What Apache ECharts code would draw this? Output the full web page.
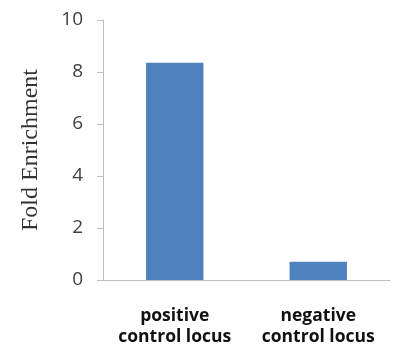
<!DOCTYPE html>
<html><head><meta charset="utf-8">
<script src="https://cdn.jsdelivr.net/npm/echarts@6/dist/echarts.min.js"></script>
<style>html,body{margin:0;padding:0;background:#fff}#c{width:396px;height:348px}</style>
</head><body><div id="c"></div>
<script>
var categories = ['positive\ncontrol locus', 'negative\ncontrol locus'];
var values = [8.36, 0.7];
var yTicks = [0, 2, 4, 6, 8, 10];

var chart = echarts.init(document.getElementById('c'));
chart.setOption({
  animation: false,
  grid: {left: 103, right: 6, top: 20, bottom: 67},
  xAxis: {
    type: 'category', data: categories,
    axisLine: {lineStyle: {color: '#bfbfbf', width: 1}},
    axisTick: {show: false},
    axisLabel: {interval: 0, hideOverlap: false, color: '#111', fontFamily: 'Open Sans', fontWeight: 'bold', fontSize: 17.5, lineHeight: 21, margin: 26}
  },
  yAxis: {
    type: 'value', min: yTicks[0], max: yTicks[yTicks.length - 1], interval: 2,
    name: 'Fold Enrichment', nameLocation: 'middle', nameGap: 60, nameRotate: 90,
    nameTextStyle: {fontFamily: 'Liberation Serif', fontSize: 24, color: '#333'},
    axisLine: {show: true, lineStyle: {color: '#bfbfbf', width: 1}},
    axisTick: {show: true, length: 6, lineStyle: {color: '#bfbfbf'}},
    splitLine: {show: false},
    axisLabel: {color: '#404040', fontFamily: 'Open Sans', fontSize: 19, margin: 20}
  },
  series: [{
    type: 'bar', data: values, barWidth: '40%',
    itemStyle: {color: '#4f81bd'}
  }]
});
</script></body></html>
